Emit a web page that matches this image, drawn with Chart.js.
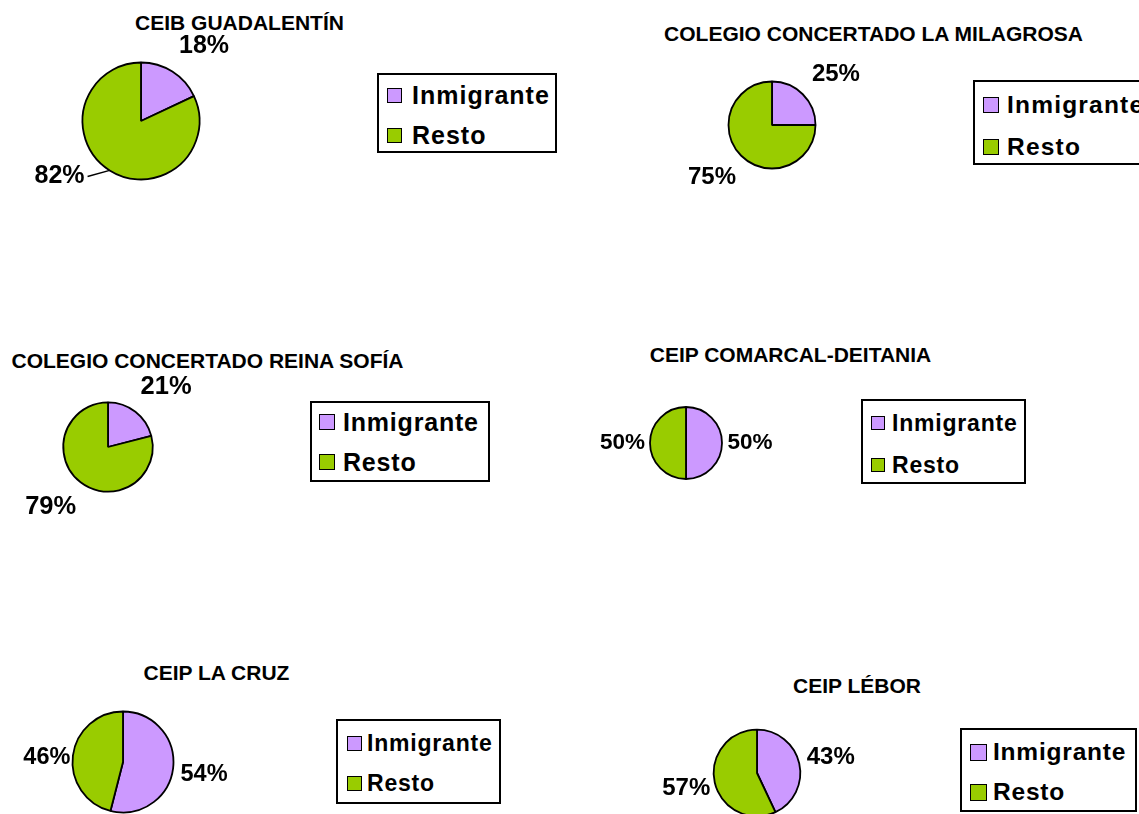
<!DOCTYPE html>
<html>
<head>
<meta charset="utf-8">
<script src="https://cdn.jsdelivr.net/npm/chart.js@4/dist/chart.umd.min.js"></script>
<style>
  html, body { margin: 0; padding: 0; background: #fff; overflow: hidden; }
  body { width: 1139px; height: 814px; position: relative; font-family: "Liberation Sans", Arial, sans-serif; font-weight: bold; color: #000; }
  .title { position: absolute; white-space: nowrap; font-size: 21px; line-height: 21px; transform: translateX(-50%); }
  .legend-box { position: absolute; box-sizing: border-box; border: 2px solid #000; background: #fff; }
  .legend-row { position: absolute; height: 30px; display: flex; align-items: center; white-space: nowrap; }
  .swatch { box-sizing: border-box; border: 1.5px solid #000; flex: none; }
  .legend-row span { line-height: 1; }
  canvas { position: absolute; }
</style>
</head>
<body>
<script>
// datos
const schools = ['CEIB GUADALENTÍN', 'COLEGIO CONCERTADO LA MILAGROSA', 'COLEGIO CONCERTADO REINA SOFÍA',
                 'CEIP COMARCAL-DEITANIA', 'CEIP LA CRUZ', 'CEIP LÉBOR'];
const categories = ['Inmigrante', 'Resto'];
const inmigrante = [18, 25, 21, 50, 54, 43];
const resto = [82, 75, 79, 50, 46, 57];
const colors = ['#CC99FF', '#99CC00'];

// posición de cada gráfico en la página
const panels = [
  { cx: 140.5, cy: 120.5, r: 58.5, labelSize: 25, place: [[97.6, 7.8], [98.6, 23.3]], leader: 1,
    title: [239.5, 30], legend: { box: [377, 73, 180, 80], sw: [387, 15], tx: 412, rows: [95.5, 135.5], size: 25, ls: 1 } },
  { cx: 772, cy: 124.5, r: 43.5, labelSize: 24, place: [[81.8, 6.4], [79.7, 3.8]],
    title: [873.5, 41], legend: { box: [973, 80, 200, 85], sw: [983, 16], tx: 1007, rows: [105, 147], size: 24.5, ls: 1.2 } },
  { cx: 108.3, cy: 446.8, r: 44.7, labelSize: 25.5, place: [[83.4, 6.4], [83.1, 5.8]],
    title: [207.5, 368], legend: { box: [310, 401, 180, 81], sw: [319, 16], tx: 343, rows: [422, 462], size: 25, ls: 0.8 } },
  { cx: 685.5, cy: 443.3, r: 36, labelSize: 22.5, place: [[64, 0], [63.5, 0]],
    title: [790.5, 362], legend: { box: [861, 399, 165, 85], sw: [871, 14], tx: 892, rows: [423, 465], size: 23, ls: 0.8 } },
  { cx: 122.5, cy: 761.5, r: 50.5, labelSize: 23.5, place: [[82, 1.6], [76.3, -3.8]],
    title: [216.5, 680], legend: { box: [336, 719, 165, 85], sw: [347, 15], tx: 367, rows: [743, 783], size: 23, ls: 0.8 } },
  { cx: 756.7, cy: 772.6, r: 43.3, labelSize: 24, place: [[75.5, 0.3], [72.4, 0.3]],
    title: [857, 693], legend: { box: [960, 728, 177, 84], sw: [970, 17], tx: 993, rows: [752, 792], size: 24.5, ls: 0.8 } }
];

// etiquetas de porcentaje fuera de cada sector
const percentLabels = {
  id: 'percentLabels',
  afterDatasetsDraw(chart, args, opts) {
    const ctx = chart.ctx;
    const meta = chart.getDatasetMeta(0);
    const values = chart.data.datasets[0].data;
    const total = values.reduce((a, b) => a + b, 0);
    ctx.save();
    ctx.font = 'bold ' + opts.size + 'px "Liberation Sans", Arial, sans-serif';
    ctx.fillStyle = '#000';
    ctx.textAlign = 'center';
    ctx.textBaseline = 'middle';
    meta.data.forEach((arc, i) => {
      const p = arc.getProps(['x', 'y', 'startAngle', 'endAngle', 'outerRadius'], true);
      const mid = (p.startAngle + p.endAngle) / 2;
      const dist = opts.place[i][0];
      const a = mid + opts.place[i][1] * Math.PI / 180;
      const lx = p.x + Math.cos(a) * dist;
      const ly = p.y + Math.sin(a) * dist;
      const text = Math.round(values[i] / total * 100) + '%';
      ctx.fillText(text, lx, ly);
      if (opts.leader === i) {
        const w = ctx.measureText(text).width;
        ctx.beginPath();
        ctx.moveTo(lx + w / 2 + 3, ly);
        ctx.lineTo(p.x + Math.cos(mid) * p.outerRadius, p.y + Math.sin(mid) * p.outerRadius);
        ctx.lineWidth = 1.5;
        ctx.strokeStyle = '#000';
        ctx.stroke();
      }
    });
    ctx.restore();
  }
};

function el(tag, cls, css) {
  const e = document.createElement(tag);
  if (cls) e.className = cls;
  Object.assign(e.style, css || {});
  document.body.appendChild(e);
  return e;
}

schools.forEach((name, k) => {
  const pn = panels[k];
  const W = 260, H = 220;

  const title = el('div', 'title', { left: pn.title[0] + 'px', top: (pn.title[1] - 17.8) + 'px' });
  title.textContent = name;

  const canvas = el('canvas', null, { left: (pn.cx - W / 2) + 'px', top: (pn.cy - H / 2) + 'px' });
  canvas.width = W;
  canvas.height = H;

  const chart = new Chart(canvas.getContext('2d'), {
    type: 'pie',
    data: {
      labels: categories,
      datasets: [{
        data: [inmigrante[k], resto[k]],
        backgroundColor: colors,
        borderColor: '#000',
        borderWidth: 1.8,
        radius: pn.r
      }]
    },
    options: {
      responsive: false,
      animation: false,
      layout: { padding: 0 },
      plugins: {
        legend: { display: false },
        tooltip: { enabled: false },
        percentLabels: { size: pn.labelSize, place: pn.place, leader: pn.leader }
      }
    },
    plugins: [percentLabels]
  });

  // leyenda
  const lg = pn.legend;
  el('div', 'legend-box', { left: lg.box[0] + 'px', top: lg.box[1] + 'px', width: lg.box[2] + 'px', height: lg.box[3] + 'px' });
  chart.data.labels.forEach((lab, i) => {
    const row = el('div', 'legend-row', { left: lg.sw[0] + 'px', top: (lg.rows[i] - 15) + 'px', fontSize: lg.size + 'px', letterSpacing: lg.ls + 'px' });
    const sw = document.createElement('div');
    sw.className = 'swatch';
    Object.assign(sw.style, { width: lg.sw[1] + 'px', height: lg.sw[1] + 'px', background: chart.data.datasets[0].backgroundColor[i], marginRight: (lg.tx - lg.sw[0] - lg.sw[1]) + 'px' });
    const tx = document.createElement('span');
    tx.textContent = lab;
    row.appendChild(sw);
    row.appendChild(tx);
  });
});
</script>
</body>
</html>
